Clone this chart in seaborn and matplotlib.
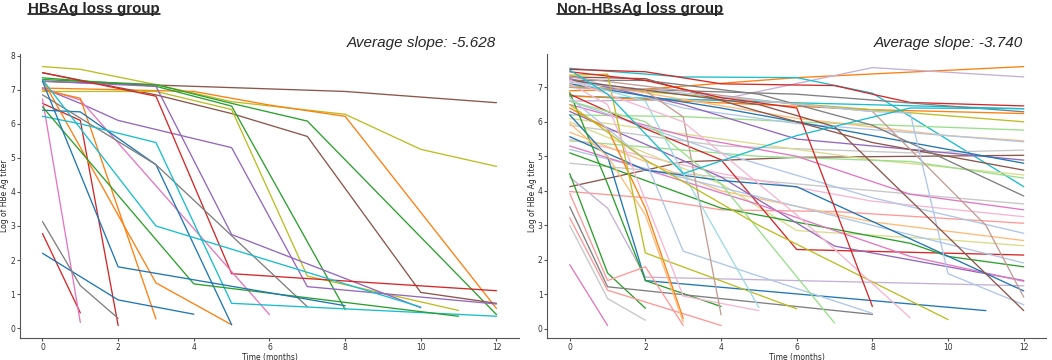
import numpy as np
import pandas as pd
import matplotlib.pyplot as plt
import seaborn as sns

# HBsAg loss group: one list of months and one of log titers per patient
loss_months = [
    [0, 4, 8, 12], [0, 1, 3, 5, 8, 10, 12], [0, 4, 6, 8, 12], [0, 3, 5, 7, 12],
    [0, 3, 5, 7, 10, 12], [0, 3, 5, 7, 11], [0, 3, 5, 8], [0, 1, 2, 5, 7, 12],
    [0, 3, 5, 10], [0, 3, 5, 12], [0, 1, 2], [0, 1],
    [0, 1], [0, 1, 6], [0, 1, 3], [0, 3, 5],
    [0, 1, 3, 5], [0, 3, 7], [0, 1, 3, 5, 12], [0, 3, 10],
    [0, 4, 11], [0, 2, 8], [0, 2, 4], [0, 1, 2],
]
loss_titer = [
    [7.25, 7.1, 6.95, 6.62], [7.68, 7.6, 7.15, 6.65, 6.28, 5.25, 4.75],
    [7.05, 6.95, 6.55, 6.22, 0.58], [7.3, 7.15, 6.6, 6.08, 0.4],
    [7.5, 6.85, 6.3, 5.63, 1.05, 0.73], [6.95, 6.95, 6.42, 1.53, 0.52],
    [7.35, 7.1, 6.52, 0.55], [7.05, 6.6, 6.1, 5.3, 1.22, 0.71],
    [7.25, 7.1, 2.75, 0.6], [7.5, 6.81, 1.6, 1.1], [6.6, 6.1, 0.08], [2.78, 0.45],
    [6.73, 0.17], [7.05, 6.7, 0.4], [7.0, 6.75, 0.27], [7.3, 1.33, 0.1],
    [6.4, 6.35, 4.8, 0.1], [6.85, 4.8, 0.63], [6.22, 6.0, 5.45, 0.73, 0.35],
    [7.3, 3.0, 0.62], [6.5, 1.3, 0.35], [7.25, 1.8, 0.66], [2.2, 0.83, 0.41],
    [3.13, 1.25, 0.29],
]

# Non-HBsAg loss group
non_months = [
    [0, 2, 6, 12], [0, 4, 8, 12], [0, 3, 6, 8, 12], [0, 2, 4, 7, 8, 9, 12],
    [0, 6, 12], [0, 6, 12], [0, 4, 8, 12], [0, 8, 12],
    [0, 3, 6, 12], [0, 6, 10, 12], [0, 3, 6, 12], [0, 4, 9, 12],
    [0, 3, 6, 12], [0, 3, 6, 9, 12], [0, 4, 8, 12], [0, 2, 5, 8, 12],
    [0, 4, 8, 12], [0, 5, 9, 12], [0, 2, 5, 8, 12], [0, 6, 12],
    [0, 3, 6, 9, 12], [0, 4, 8, 12], [0, 2, 4, 7, 12], [0, 4, 8, 12],
    [0, 4, 8, 12], [0, 4, 6, 10, 12], [0, 2, 4, 6, 12], [0, 4, 8, 12],
    [0, 2, 4, 9, 10, 12], [0, 4, 7, 12], [0, 5, 9, 12], [0, 1, 2, 12],
    [0, 2, 4, 6, 12], [0, 6, 8, 11, 12], [0, 8, 9, 10, 12], [0, 5, 7, 12],
    [0, 1, 2, 11], [0, 1, 2], [0, 1, 2, 4], [0, 1, 8],
    [0, 1, 4], [0, 1, 2], [0, 1], [0, 1, 2, 3],
    [0, 1, 2, 3], [0, 1, 2, 3], [0, 1, 2, 6], [0, 1, 3, 5],
    [0, 2, 3, 8], [0, 2, 3, 4], [0, 2, 3, 5], [0, 2, 4, 7],
    [0, 2, 5, 10], [0, 3, 6, 9], [0, 2, 4, 6, 8], [0, 1, 3, 6, 9, 12],
]
non_titer = [
    [6.9, 6.95, 7.28, 7.6], [6.6, 6.65, 7.57, 7.3], [7.55, 7.3, 7.28, 6.83, 4.12],
    [7.52, 7.45, 7.1, 7.05, 6.8, 6.56, 6.46], [6.75, 6.55, 6.38], [7.0, 6.8, 6.29],
    [6.75, 6.55, 6.35, 6.24], [7.05, 6.35, 6.0], [6.2, 6.15, 6.0, 5.76],
    [7.2, 6.1, 5.6, 5.45], [7.35, 6.4, 5.95, 5.42], [5.9, 5.3, 5.1, 5.18],
    [4.12, 4.84, 4.97, 5.03], [7.25, 6.5, 5.5, 5.2, 4.89], [7.1, 6.4, 5.6, 4.8],
    [7.3, 7.25, 6.3, 5.4, 4.6], [6.1, 5.5, 4.9, 4.46], [5.45, 5.0, 4.85, 4.37],
    [7.2, 7.2, 6.8, 5.9, 3.85], [4.8, 4.2, 3.62], [6.5, 5.6, 5.0, 3.9, 3.45],
    [5.5, 4.5, 3.7, 3.25], [3.98, 3.8, 3.45, 3.4, 3.06], [6.6, 5.1, 3.8, 2.77],
    [5.7, 4.0, 3.1, 2.56], [6.0, 4.2, 2.85, 2.58, 2.41], [6.8, 5.8, 4.9, 2.3, 2.14],
    [5.2, 4.1, 3.0, 1.91], [5.1, 4.3, 3.5, 2.48, 2.1, 1.8], [6.3, 4.4, 2.4, 1.4],
    [5.3, 3.6, 2.1, 1.38], [4.4, 3.5, 1.5, 1.25], [5.57, 4.6, 4.3, 4.12, 1.1],
    [7.3, 6.5, 6.3, 3.0, 0.92], [7.15, 6.3, 6.25, 1.6, 0.7], [7.2, 6.5, 5.86, 0.53],
    [6.2, 5.0, 1.4, 0.53], [4.5, 1.62, 0.6], [6.85, 4.2, 1.4, 0.65], [3.54, 1.22, 0.42],
    [3.22, 1.12, 0.1], [3.0, 0.88, 0.25], [1.86, 0.1], [3.93, 1.4, 1.8, 0.1],
    [6.4, 5.8, 3.5, 0.3], [5.95, 5.0, 3.3, 0.2], [7.35, 7.38, 2.2, 0.58],
    [7.1, 6.5, 0.95, 0.53], [6.7, 4.9, 2.25, 0.45], [7.0, 6.9, 6.14, 0.41],
    [7.2, 6.6, 4.5, 0.62], [6.6, 6.0, 4.2, 0.17], [6.5, 4.9, 3.0, 0.27],
    [7.2, 6.0, 3.3, 0.32], [7.45, 7.2, 6.7, 6.4, 0.65], [7.5, 6.8, 4.5, 5.6, 6.4, 6.38],
]

loss_slope = "Average slope: -5.628"
non_slope = "Average slope: -3.740"

# colour index per patient (tab10 for the left panel, tab20 for the right)
loss_col = [5, 8, 1, 2, 5, 8, 2, 4, 4, 3, 3, 3, 6, 6, 1, 1, 0, 7, 9, 9, 2, 0, 0, 7]
non_col = [2, 9, 18, 6, 18, 14, 2, 16, 5, 3, 1, 15, 10, 8, 0, 10, 17, 5, 14, 15,
           12, 13, 7, 1, 3, 17, 6, 1, 4, 8, 12, 9, 0, 11, 1, 10, 0, 4, 4, 14,
           7, 15, 12, 7, 2, 3, 16, 13, 1, 11, 19, 5, 16, 13, 6, 18]


def to_long(months, titer):
    rows = []
    for pid, (mm, tt) in enumerate(zip(months, titer)):
        for m, t in zip(mm, tt):
            rows.append((pid, m, t))
    return pd.DataFrame(rows, columns=["pid", "month", "titer"])


sns.set_style("ticks")
plt.rcParams["axes.edgecolor"] = "#555555"
plt.rcParams["xtick.color"] = "#555555"
plt.rcParams["ytick.color"] = "#555555"
plt.rcParams["xtick.labelcolor"] = "#333333"
plt.rcParams["ytick.labelcolor"] = "#333333"

fig = plt.figure(figsize=(10.52, 3.6), dpi=100)
ax1 = fig.add_axes([0.0188, 0.06, 0.4747, 0.791])
ax2 = fig.add_axes([0.520, 0.06, 0.4747, 0.791])


def panel(ax, months, titer, cols, pal_name):
    df = to_long(months, titer)
    base = sns.color_palette(pal_name, 20 if pal_name == "tab20" else 10)
    pal = {i: base[c] for i, c in enumerate(cols)}
    sns.lineplot(data=df, x="month", y="titer", hue="pid", palette=pal,
                 legend=False, linewidth=0.95, ax=ax, errorbar=None)
    ax.set_xticks(range(0, 13, 2))
    ax.set_xlabel("Time (months)", fontsize=5.5, labelpad=0.5)
    ax.set_ylabel("Log of HBe Ag titer", fontsize=5.5, labelpad=0.8)
    ax.tick_params(labelsize=5.5, length=2, width=0.8, pad=1.2)
    sns.despine(ax=ax)


panel(ax1, loss_months, loss_titer, loss_col, "tab10")
panel(ax2, non_months, non_titer, non_col, "tab20")

titles = []
for x, txt in [(0.027, "HBsAg loss group"), (0.5295, "Non-HBsAg loss group")]:
    titles.append(fig.text(x, 0.994, txt, ha="left", va="top", fontsize=10.9,
                           fontweight="bold", family="Liberation Sans"))
fig.text(0.4715, 0.881, loss_slope, ha="right", va="center", fontsize=11,
         style="italic", family="Liberation Sans")
fig.text(0.9724, 0.881, non_slope, ha="right", va="center", fontsize=11,
         style="italic", family="Liberation Sans")

# underline the group titles
fig.canvas.draw()
inv = fig.transFigure.inverted()
for t in titles:
    bb = t.get_window_extent().transformed(inv)
    y = bb.y0 + 0.005
    fig.add_artist(plt.Line2D([bb.x0, bb.x1], [y, y], color="black", lw=1.1,
                              transform=fig.transFigure))

fig.savefig("out.png", dpi=100)
